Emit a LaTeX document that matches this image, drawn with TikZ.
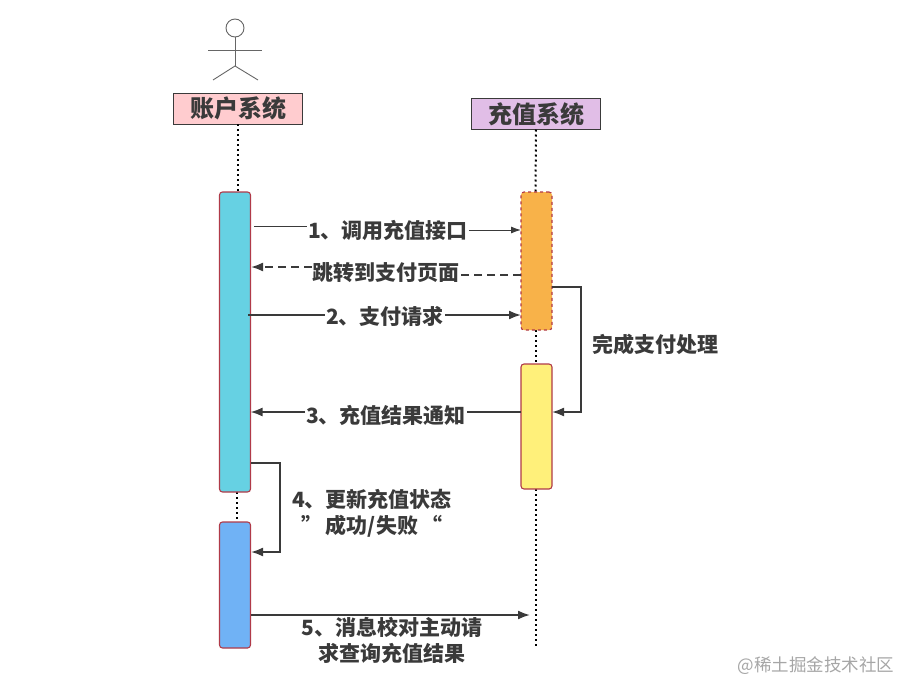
\documentclass[tikz,border=0pt]{standalone}
\usepackage{fontspec}
\setmainfont{Noto Sans CJK SC}
\usetikzlibrary{arrows.meta}
\definecolor{inkgray}{HTML}{3A3A3A}
\definecolor{edgered}{HTML}{B03A48}
\definecolor{barcyan}{HTML}{66D1E3}
\definecolor{barorange}{HTML}{F8B249}
\definecolor{baryellow}{HTML}{FFF07A}
\definecolor{barblue}{HTML}{70B2F5}
\definecolor{headpink}{HTML}{FFCCCF}
\definecolor{headpurple}{HTML}{E1BEE7}

\begin{document}
\begin{tikzpicture}[
    x=1pt,
    y=-1pt,
    >={Latex[length=12pt,width=9pt]},
    every node/.style={outer sep=0pt},
    header/.style={draw=inkgray, line width=1pt, minimum width=129pt, minimum height=31pt, inner sep=0pt, font=\fontsize{24}{26}\selectfont\bfseries, text=inkgray},
    bar/.style={draw=edgered, line width=1.1pt, rounded corners=3pt, minimum width=31pt, inner sep=0pt},
    lifeline/.style={black, line width=2pt, dash pattern=on 2pt off 3pt},
    person/.style={draw=black!60, line width=0.9pt},
    msg/.style={draw=inkgray, line width=1.8pt},
    thinmsg/.style={draw=inkgray, line width=1pt},
    label/.style={font=\fontsize{21}{26}\selectfont\bfseries, text=inkgray, align=center, inner sep=1pt}
]
\useasboundingbox (0,0) rectangle (903,683);

% actor
\node[person, circle, minimum size=18pt, inner sep=0pt] (head) at (235,28) {};
\coordinate (hip) at (235,66);
\coordinate (armL) at (208,50);
\coordinate (armR) at (262,50);
\coordinate (legL) at (213,80);
\coordinate (legR) at (258,80);
\draw[person] (head) -- (hip);
\draw[person] (armL) -- (armR);
\draw[person] (legL) -- (hip) -- (legR);

% headers
\node[header, fill=headpink] (acct) at (238,108.5) {账户系统};
\node[header, fill=headpurple] (pay) at (536,114) {充值系统};

% lifelines
\coordinate (payEnd) at (535.5,648);
\coordinate (acctGapA) at (237,492);
\coordinate (acctGapB) at (237,522);
\coordinate (payTop) at (535.5,192);
\coordinate (payGapA) at (535.5,330);
\coordinate (payGapB) at (535.5,364);
\coordinate (payGapC) at (535.5,489);
\draw[lifeline] (acct.south) -- ++(0,68);
\draw[lifeline] (acctGapA) -- (acctGapB);
\draw[lifeline] (pay.south) -- (payTop);
\draw[lifeline] (payGapA) -- (payGapB);
\draw[lifeline] (payGapC) -- (payEnd);

% activation bars
\node[bar, fill=barcyan, minimum height=300pt] (acctBar) at (235,342) {};
\node[bar, fill=barblue, minimum height=126pt] (acctBar2) at (235,585) {};
\node[bar, fill=barorange, dashed, minimum height=138pt] (payBar) at (536.5,261) {};
\node[bar, fill=baryellow, minimum height=125pt] (payBar2) at (536.5,426.5) {};

% labels
\node[label] (callLbl) at (388,230) {1、调用充值接口};
\node[label] (jumpLbl) at (386,273) {跳转到支付页面};
\node[label] (reqLbl) at (385,316) {2、支付请求};
\node[label] (doneLbl) at (655,344) {完成支付处理};
\node[label] (notifyLbl) at (386,415) {3、充值结果通知};
\node[label] (stateLbl) at (372,513) {4、更新充值状态\\\kern-4pt”\,成功/失败\,“\kern-4pt};
\node[label] (checkLbl) at (392,640) {5、消息校对主动请\\求查询充值结果};

% messages
\coordinate (callStart) at (254,226);
\coordinate (jumpEnd) at (251,267);
\coordinate (jumpStart) at (521,275);
\coordinate (reqStart) at (248,315);
\coordinate (turnA) at (552,287);
\coordinate (turnB) at (581,412);
\coordinate (turnC) at (552,412);
\coordinate (stateA) at (251,463);
\coordinate (stateB) at (280,552);
\coordinate (stateC) at (251,552);
\coordinate (checkStart) at (251,615);
\coordinate (checkEnd) at (530,615);

\draw[thinmsg] (callStart) -- (callStart -| callLbl.west);
\draw[thinmsg, -{Latex[length=10pt,width=7pt]}] (callLbl.east) -- (payBar.west |- callLbl.east);
\draw[msg, dash pattern=on 8pt off 5pt, ->] (jumpEnd -| jumpLbl.west) -- (jumpEnd);
\draw[msg, dash pattern=on 8pt off 5pt] (jumpStart) -- (jumpStart -| jumpLbl.east);
\draw[msg] (reqStart) -- (reqStart -| reqLbl.west);
\draw[msg, ->] (reqStart -| reqLbl.east) -- (reqStart -| payBar.west);
\draw[msg, ->] (turnA) -| (turnB) -- (turnC);
\draw[msg] (turnC -| payBar2.west) -- (turnC -| notifyLbl.east);
\draw[msg, ->] (turnC -| notifyLbl.west) -- (turnC -| acctBar.east);
\draw[msg, ->] (stateA) -| (stateB) -- (stateC);
\draw[msg, ->] (checkStart) -- (checkEnd);

\node[font=\fontsize{17.5}{20}\selectfont, text=black!35] (mark) at (816,666) {@稀土掘金技术社区};
\end{tikzpicture}
\end{document}
